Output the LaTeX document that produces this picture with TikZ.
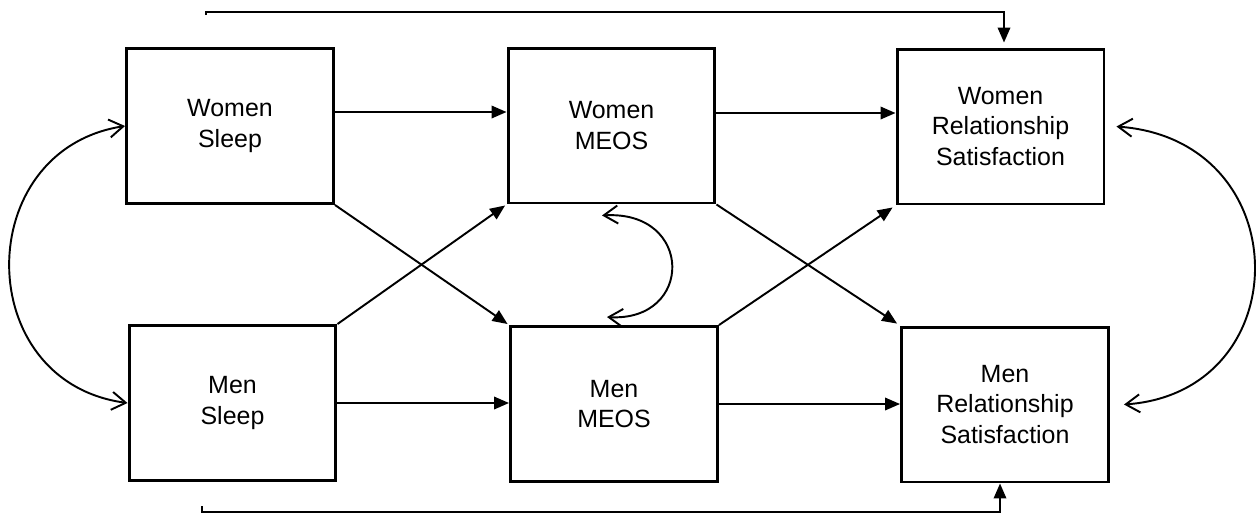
\documentclass[tikz,border=0pt]{standalone}
\usepackage{fontspec}
\setmainfont{Liberation Sans}
\usetikzlibrary{arrows.meta}

\tikzset{
  varbox/.style={draw, line width=1.7pt, minimum width=4.14cm, minimum height=3.1cm,
    inner sep=0pt, align=center, font=\fontsize{14.2pt}{17.6pt}\selectfont},
  path/.style={line width=1.1pt, -{Triangle[length=0.3cm,width=0.25cm]}},
  cov/.style={line width=1.1pt, {Straight Barb[length=0.28cm,width=0.36cm]}-{Straight Barb[length=0.28cm,width=0.36cm]}},
}

\begin{document}
\begin{tikzpicture}[x=0.02cm, y=-0.02cm]
\useasboundingbox (0,0) rectangle (1257,515);

% variables
\node[varbox] (ws)  at (230,126)    {Women\\Sleep};
\node[varbox] (wm)  at (611.5,125.5) {Women\\MEOS};
\node[varbox] (wrs) at (1000.5,126.5) {Women\\Relationship\\Satisfaction};
\node[varbox] (ms)  at (232.5,403)  {Men\\Sleep};
\node[varbox] (mm)  at (614,404)    {Men\\MEOS};
\node[varbox] (mrs) at (1005,404.5) {Men\\Relationship\\Satisfaction};

% actor paths
\coordinate (a1) at ([yshift=0.28cm]ws.east);
\coordinate (a2) at ([yshift=0.25cm]wm.east);
\draw[path] (a1) -- (a1 -| wm.west);
\draw[path] (a2) -- (a2 -| wrs.west);
\draw[path] (ms.east) -- (ms.east -| mm.west);
\draw[path] (mm.east) -- (mm.east -| mrs.west);

% partner paths
\draw[path, shorten >=1pt] (ws.south east) -- (mm.north west);
\draw[path, shorten >=1pt] (ms.north east) -- (wm.south west);
\draw[path, shorten >=2pt] (wm.south east) -- (mrs.north west);
\draw[path, shorten >=2pt] (mm.north east) -- (wrs.south west);

% direct paths from sleep to relationship satisfaction
\coordinate (t0) at (206,15);
\coordinate (b0) at (202,506);
\draw[path, shorten >=0.1cm] (t0) -- ++(0,-3) -| ([xshift=0.07cm]wrs.north);
\draw[path] (b0) -- ++(0,6) -| ([xshift=-0.1cm]mrs.south);

% covariances
\draw[cov] (ws.west) .. controls (-29,150) and (-29,382) .. (ms.west);
\coordinate (r1) at ([xshift=0.22cm]wrs.east);
\coordinate (r2) at ([xshift=0.28cm]mrs.east);
\draw[cov] (r1) .. controls (1299,140) and (1299,392) .. (r2);
\coordinate (m1) at ([xshift=-0.19cm,yshift=-0.22cm]wm.south);
\coordinate (m2) at ([xshift=-0.14cm,yshift=0.16cm]mm.north);
\draw[cov] (m1) .. controls (694,210) and (694,322) .. (m2);
\end{tikzpicture}
\end{document}
